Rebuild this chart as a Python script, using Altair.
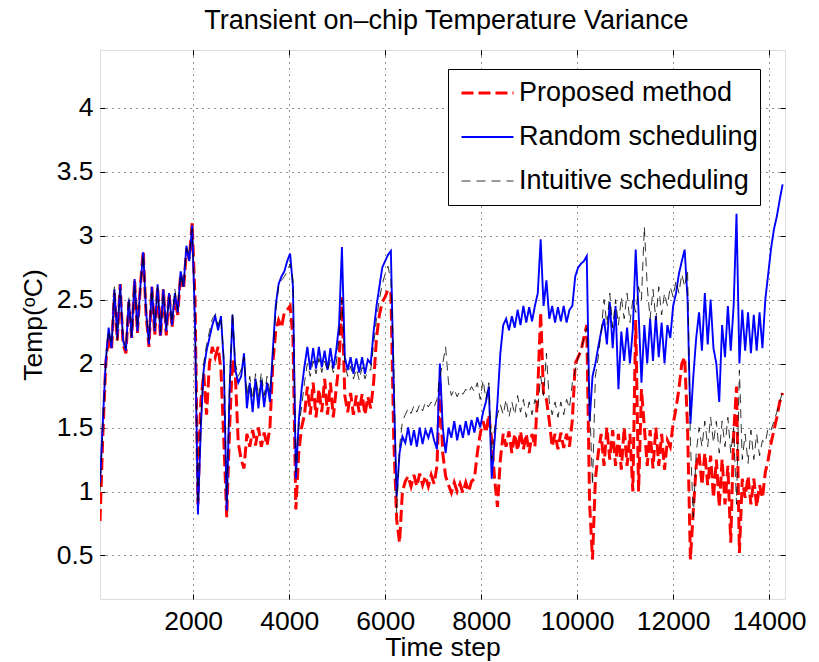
import altair as alt
import pandas as pd

FONT = "Liberation Sans"

# sampling grid (time steps)
T = list(range(60, 14281, 60))

PROPOSED = [
    0.77, 1.45, 2.00, 2.22, 2.10, 2.55, 2.18, 2.62, 2.15, 2.08,
    2.48, 2.20, 2.65, 2.24, 2.60, 2.88, 2.38, 2.13, 2.60, 2.22,
    2.60, 2.20, 2.58, 2.22, 2.55, 2.28, 2.50, 2.38, 2.70, 2.58,
    2.88, 2.82, 3.10, 2.50, 0.90, 1.70, 1.92, 1.60, 2.00, 2.13,
    2.05, 2.13, 1.95, 1.40, 0.80, 1.50, 2.03, 1.90, 1.38, 1.25,
    1.18, 1.45, 1.35, 1.48, 1.36, 1.50, 1.35, 1.46, 1.36, 1.50,
    2.00, 2.25, 2.34, 2.28, 2.40, 2.42, 2.45, 2.20, 0.86, 1.30,
    1.50, 1.60, 1.82, 1.60, 1.85, 1.58, 1.80, 1.62, 1.88, 1.60,
    1.85, 1.58, 1.80, 2.00, 2.52, 1.75, 1.62, 1.77, 1.60, 1.75,
    1.62, 1.76, 1.60, 1.74, 1.65, 1.85, 2.20, 2.38, 2.48, 2.52,
    2.58, 2.55, 1.40, 0.78, 0.60, 1.00, 1.08, 1.12, 1.04, 1.13,
    1.04, 1.14, 1.05, 1.12, 1.04, 1.13, 1.06, 1.20, 1.87, 1.30,
    1.12, 1.05, 0.99, 1.07, 1.00, 1.06, 0.99, 1.07, 1.00, 1.08,
    1.10, 1.30, 1.45, 1.55, 1.46, 1.60, 1.40, 1.10, 0.88, 1.25,
    1.45, 1.35, 1.47, 1.30, 1.45, 1.32, 1.47, 1.33, 1.45, 1.30,
    1.45, 1.35, 1.80, 2.40, 1.75, 1.72, 1.55, 1.35, 1.45, 1.33,
    1.46, 1.34, 1.45, 1.35, 1.56, 2.00, 2.05, 2.10, 2.20, 2.30,
    0.90, 0.47, 1.10, 1.30, 1.45, 1.20, 1.50, 1.25, 1.48, 1.20,
    1.45, 1.17, 1.50, 1.20, 1.45, 1.00, 2.34, 1.00, 1.80, 1.50,
    1.20, 1.48, 1.18, 1.50, 1.20, 1.45, 1.17, 1.40, 1.35, 1.53,
    1.65, 1.80, 2.00, 2.05, 1.50, 0.47, 0.85, 1.20, 1.30, 1.05,
    1.30, 1.05, 1.28, 0.95, 1.25, 0.88, 1.25, 0.90, 1.20, 0.60,
    1.45, 1.82, 0.52, 1.10, 0.95, 1.12, 0.90, 1.10, 0.88, 1.05,
    0.95, 1.15, 1.25, 1.38, 1.48, 1.58, 1.70, 1.77,
]

RANDOM = [
    1.07, 1.55, 2.02, 2.28, 2.12, 2.58, 2.20, 2.62, 2.18, 2.10,
    2.50, 2.20, 2.66, 2.25, 2.60, 2.87, 2.40, 2.15, 2.60, 2.25,
    2.62, 2.22, 2.58, 2.25, 2.55, 2.30, 2.55, 2.40, 2.72, 2.60,
    2.92, 2.80, 3.08, 2.30, 0.82, 1.50, 1.95, 2.10, 2.20, 2.30,
    2.37, 2.26, 2.37, 2.00, 0.85, 1.80, 2.38, 1.95, 1.85, 1.90,
    2.08, 1.65, 1.85, 1.62, 1.88, 1.65, 1.87, 1.66, 1.85, 1.70,
    2.10, 2.45, 2.62, 2.68, 2.72, 2.80, 2.86, 2.60, 1.10, 1.55,
    1.80, 1.98, 2.13, 1.95, 2.12, 1.96, 2.13, 1.97, 2.10, 1.95,
    2.12, 1.96, 2.10, 2.30, 2.91, 2.05, 1.95, 2.05, 1.92, 2.04,
    1.93, 2.05, 1.92, 2.03, 2.00, 2.25, 2.45, 2.60, 2.75, 2.80,
    2.85, 2.88, 1.80, 0.96, 1.30, 1.43, 1.38, 1.50, 1.36, 1.48,
    1.35, 1.50, 1.37, 1.48, 1.42, 1.50, 1.40, 1.33, 2.00, 1.50,
    1.30, 1.50, 1.42, 1.55, 1.40, 1.52, 1.42, 1.55, 1.44, 1.56,
    1.46, 1.58, 1.50, 1.62, 1.70, 1.82, 1.10, 1.40, 1.70, 2.08,
    2.30, 2.35, 2.26, 2.37, 2.28, 2.42, 2.30, 2.45, 2.32, 2.44,
    2.33, 2.45, 2.55, 2.97, 2.45, 2.65, 2.35, 2.45, 2.32, 2.44,
    2.33, 2.45, 2.32, 2.42, 2.45, 2.68, 2.75, 2.78, 2.80, 2.84,
    1.55, 1.90, 2.00, 2.13, 2.25, 2.35, 2.15, 2.48, 2.12, 2.45,
    1.80, 2.25, 2.02, 2.28, 2.00, 2.27, 2.89, 2.40, 1.85, 2.30,
    2.00, 2.35, 2.02, 2.37, 2.05, 2.32, 2.00, 2.30, 2.20, 2.45,
    2.55, 2.70, 2.80, 2.89, 2.50, 1.53, 1.90, 2.20, 2.40, 2.10,
    2.55, 2.15, 2.50, 2.12, 2.00, 1.70, 2.30, 2.05, 2.45, 2.10,
    2.45, 3.17, 2.00, 2.42, 2.10, 2.40, 2.08, 2.38, 2.10, 2.40,
    2.12, 2.50, 2.70, 2.90, 3.05, 3.15, 3.28, 3.40,
]

INTUITIVE = [
    1.00, 1.50, 2.00, 2.26, 2.15, 2.60, 2.18, 2.58, 2.20, 2.12,
    2.52, 2.22, 2.62, 2.28, 2.58, 2.85, 2.42, 2.18, 2.58, 2.28,
    2.60, 2.25, 2.55, 2.28, 2.52, 2.32, 2.58, 2.42, 2.70, 2.60,
    2.90, 2.85, 3.05, 2.40, 0.90, 1.55, 2.00, 2.15, 2.25, 2.35,
    2.38, 2.30, 2.36, 2.05, 0.92, 1.85, 2.40, 2.00, 1.90, 1.95,
    2.05, 1.75, 1.90, 1.72, 1.92, 1.74, 1.93, 1.75, 1.90, 1.78,
    2.05, 2.40, 2.60, 2.65, 2.68, 2.72, 2.78, 2.65, 1.15, 1.50,
    1.66, 1.85, 2.00, 1.90, 2.02, 1.92, 2.04, 1.93, 2.02, 1.94,
    2.03, 1.93, 2.00, 2.20, 2.50, 2.00, 1.90, 1.98, 1.88, 1.96,
    1.87, 1.97, 1.88, 1.95, 1.95, 2.15, 2.35, 2.50, 2.62, 2.70,
    2.76, 2.65, 2.00, 0.83, 1.35, 1.55, 1.60, 1.65, 1.61, 1.67,
    1.62, 1.68, 1.63, 1.70, 1.66, 1.70, 1.66, 1.72, 1.90, 2.00,
    2.13, 1.85, 1.75, 1.80, 1.74, 1.79, 1.76, 1.80, 1.77, 1.82,
    1.78, 1.85, 1.72, 1.87, 1.72, 1.85, 1.25, 1.50, 1.60, 1.68,
    1.60, 1.72, 1.58, 1.70, 1.60, 1.75, 1.62, 1.72, 1.58, 1.70,
    1.60, 1.72, 1.65, 1.90, 1.75, 2.08, 1.70, 1.60, 1.70, 1.58,
    1.70, 1.60, 1.72, 1.65, 1.85, 1.95, 2.05, 2.10, 2.20, 2.28,
    1.70, 1.05, 1.90, 2.05, 2.25, 2.50, 2.30, 2.55, 2.28, 2.50,
    2.30, 2.52, 2.35, 2.55, 2.32, 2.50, 2.40, 2.60, 2.50, 3.07,
    2.60, 2.35, 2.58, 2.34, 2.60, 2.38, 2.55, 2.45, 2.60, 2.52,
    2.65, 2.55, 2.70, 2.60, 2.73, 1.38, 0.80, 1.30, 1.50, 1.35,
    1.55, 1.35, 1.58, 1.38, 1.55, 1.30, 1.55, 1.35, 1.58, 1.30,
    1.50, 0.90, 1.95, 1.25, 1.45, 1.22, 1.48, 1.25, 1.45, 1.28,
    1.40, 1.38, 1.50, 1.48, 1.55, 1.62, 1.70, 1.78,
]

SERIES = ["Proposed method", "Random scheduling", "Intuitive scheduling"]
COLORS = ["#ff0000", "#0000ff", "#000000"]
DASHES = [[12, 5], [1, 0], [9, 6]]
WIDTHS = [3, 0.8, 0.9]
X_TICKS = [2000, 4000, 6000, 8000, 10000, 12000, 14000]
Y_TICKS = [0.5, 1, 1.5, 2, 2.5, 3, 3.5, 4]

rows = []
for name, vals in zip(SERIES, [PROPOSED, RANDOM, INTUITIVE]):
    for t, v in zip(T, vals):
        rows.append({"series": name, "t": t, "v": v})
df = pd.DataFrame(rows)

x_scale = alt.Scale(domain=[60, 14330], nice=False, zero=False)
y_scale = alt.Scale(domain=[0.16, 4.45], nice=False, zero=False)

legend = alt.Legend(
    title=None, orient="none", legendX=348, legendY=19,
    symbolType="stroke", symbolSize=2704, clipHeight=44, rowPadding=0,
    padding=2, symbolOffset=10, labelOffset=4,
    labelFontSize=27, labelFont=FONT, labelColor="black", labelLimit=500,
    strokeColor="black", fillColor="white", cornerRadius=0,
)

main_x_axis = alt.Axis(
    values=X_TICKS, format="d", grid=True, gridDash=[1, 5], gridColor="#000000",
    gridOpacity=0.85, gridWidth=1, ticks=False, domain=False,
    labelFontSize=26.5, labelFont=FONT, labelColor="black", labelPadding=9,
    labelOverlap=False, labelFlush=False,
    title="Time step", titleFontSize=26.5, titleFont=FONT, titleFontWeight="normal",
    titleColor="black", titlePadding=0,
)
main_y_axis = alt.Axis(
    values=Y_TICKS, format="~g", grid=True, gridDash=[1, 5], gridColor="#000000",
    gridOpacity=0.85, gridWidth=1, ticks=False, domain=False,
    labelFontSize=26.5, labelFont=FONT, labelColor="black", labelPadding=7,
    labelOverlap=False, labelFlush=False,
    title="Temp(ᵒC)", titleFontSize=26.5, titleFont=FONT, titleFontWeight="normal",
    titleColor="black", titlePadding=9,
)


def tick_axis(orient, values):
    return alt.Axis(orient=orient, offset=-5, values=values, ticks=True, tickSize=5,
                    tickColor="black", tickWidth=1, labels=False, domain=False,
                    grid=False, title=None)


def series_layer(i, xaxis, yaxis):
    return alt.Chart(df).transform_filter(
        alt.datum.series == SERIES[i]
    ).mark_line(clip=True).encode(
        x=alt.X("t:Q", scale=x_scale, axis=xaxis),
        y=alt.Y("v:Q", scale=y_scale, axis=yaxis),
        color=alt.Color("series:N", scale=alt.Scale(domain=SERIES, range=COLORS), legend=legend),
        strokeDash=alt.StrokeDash("series:N", scale=alt.Scale(domain=SERIES, range=DASHES), legend=legend),
        strokeWidth=alt.StrokeWidth("series:N", scale=alt.Scale(domain=SERIES, range=WIDTHS), legend=legend),
        order=alt.Order("t:Q"),
    )


red = series_layer(0, main_x_axis, main_y_axis)
blue = series_layer(1, None, None)
black = series_layer(2, None, None)

ticks_a = alt.Chart(df).mark_point(opacity=0).encode(
    x=alt.X("t:Q", scale=x_scale, axis=tick_axis("bottom", X_TICKS)),
    y=alt.Y("v:Q", scale=y_scale, axis=tick_axis("left", Y_TICKS)),
)
ticks_b = alt.Chart(df).mark_point(opacity=0).encode(
    x=alt.X("t:Q", scale=x_scale, axis=tick_axis("top", X_TICKS)),
    y=alt.Y("v:Q", scale=y_scale, axis=tick_axis("right", Y_TICKS)),
)

chart = alt.layer(red, blue, black, ticks_a, ticks_b).resolve_axis(
    x="independent", y="independent"
).properties(
    width=685, height=549,
    title=alt.TitleParams("Transient on–chip Temperature Variance", fontSize=27, font=FONT,
                          fontWeight="normal", color="black", anchor="middle", offset=15, dx=4),
    padding={"left": 100, "top": 50, "right": 34, "bottom": 63},
    autosize=alt.AutoSizeParams(type="none"),
).configure_view(stroke="black", strokeWidth=1).configure(font=FONT)

chart.save("out.html", embed_options={"renderer": "svg", "actions": False})
